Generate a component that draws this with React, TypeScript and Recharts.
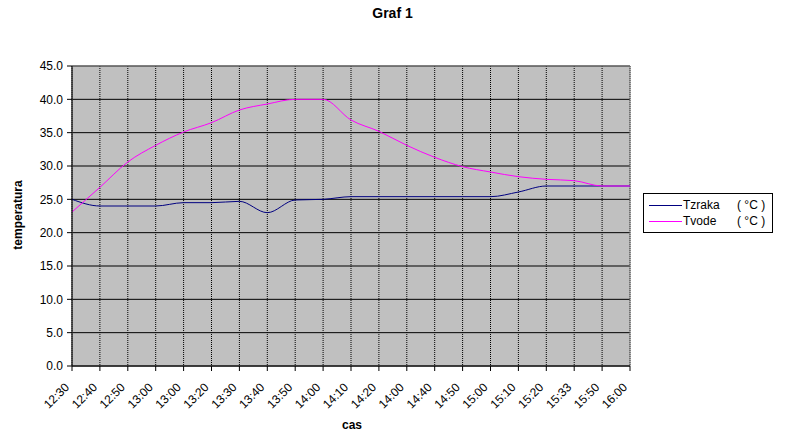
import React from 'react';
import { LineChart, Line, XAxis, YAxis, CartesianGrid, ReferenceArea } from 'recharts';

const categories = ['12:30', '12:40', '12:50', '13:00', '13:00', '13:20', '13:30', '13:40', '13:50', '14:00', '14:10', '14:20', '14:00', '14:40', '14:50', '15:00', '15:10', '15:20', '15:33', '15:50', '16:00'];
const tzraka = [25.0, 24.0, 24.0, 24.0, 24.5, 24.5, 24.7, 23.0, 24.9, 25.0, 25.4, 25.4, 25.4, 25.4, 25.4, 25.4, 26.1, 27.0, 27.0, 27.0, 27.0];
const tvode = [23.1, 26.8, 30.6, 33.1, 35.1, 36.5, 38.4, 39.3, 40.0, 40.0, 36.9, 35.2, 33.1, 31.3, 29.9, 29.1, 28.4, 28.0, 27.8, 27.0, 27.0];
const yTicks = [0, 5, 10, 15, 20, 25, 30, 35, 40, 45];
const seriesNames = ['Tzraka', 'Tvode'];
const seriesColors = ['#000080', '#FF00FF'];

const data = categories.map((c, i) => ({ cas: c, idx: i, tzraka: tzraka[i], tvode: tvode[i] }));

const FONT = 'Arial, "Liberation Sans", sans-serif';

const XTick = (props: any) => {
  const { x, y, payload } = props;
  const ax = x - 2;
  const ay = y + 15;
  return (
    <text x={ax} y={ay} transform={`rotate(-45, ${ax}, ${ay})`} textAnchor="end" fontFamily={FONT} fontSize={12} fill="#000">
      {categories[payload.value]}
    </text>
  );
};

const LegendBox = () => (
  <div style={{ position: 'absolute', left: 643, top: 193, border: '1px solid #000', background: '#fff', width: 130, height: 40, boxSizing: 'border-box', fontFamily: FONT, fontSize: 12, color: '#000', paddingTop: 3 }}>
    {seriesNames.map((n, i) => (
      <div key={n} style={{ position: 'relative', display: 'flex', alignItems: 'center', height: 16 }}>
        <div style={{ marginLeft: 5, width: 33, height: 1, background: seriesColors[i] }} />
        <span style={{ marginLeft: 1, whiteSpace: 'pre' }}>{n}</span>
        <span style={{ position: 'absolute', left: 93, whiteSpace: 'pre' }}>( °C )</span>
      </div>
    ))}
  </div>
);

export default function App() {
  return (
    <div style={{ position: 'absolute', left: 0, top: 0, width: 785, height: 439, background: '#fff' }}>
      <div style={{ position: 'absolute', left: 0, width: 785, top: 5, textAlign: 'center', fontFamily: FONT, fontWeight: 'bold', fontSize: 14 }}>Graf 1</div>
      <div style={{ position: 'absolute', left: 18, top: 215, fontFamily: FONT, fontWeight: 'bold', fontSize: 12, transform: 'translate(-50%, -50%) rotate(-90deg)', whiteSpace: 'nowrap' }}>temperatura</div>
      <div style={{ position: 'absolute', left: 352, top: 418, transform: 'translateX(-50%)', fontFamily: FONT, fontWeight: 'bold', fontSize: 12 }}>cas</div>
      <LineChart width={785} height={439} data={data} margin={{ top: 66, right: 155, left: 0, bottom: 0 }}>
        <CartesianGrid fill="#C0C0C0" stroke="#000" vertical={false} />
        <CartesianGrid stroke="#000" strokeDasharray="1 1" horizontal={false} />
        <XAxis dataKey="idx" type="number" domain={[0, categories.length - 1]} ticks={data.map((d) => d.idx)} interval={0} height={73} tick={<XTick />} tickSize={5} axisLine={{ stroke: '#000' }} tickLine={{ stroke: '#000' }} />
        <YAxis domain={[0, 45]} ticks={yTicks} width={72} tickSize={5} tickMargin={4} tickFormatter={(v: number) => v.toFixed(1)} tick={{ fontFamily: FONT, fontSize: 12, fill: '#000' }} axisLine={{ stroke: '#000' }} tickLine={{ stroke: '#000' }} interval={0} />
        <ReferenceArea x1={0} x2={categories.length - 1} y1={0} y2={45} fill="none" stroke="#808080" />
        <Line type="monotone" dataKey="tzraka" name="Tzraka" stroke={seriesColors[0]} strokeWidth={1} dot={false} isAnimationActive={false} />
        <Line type="monotone" dataKey="tvode" name="Tvode" stroke={seriesColors[1]} strokeWidth={1} dot={false} isAnimationActive={false} />
      </LineChart>
      <LegendBox />
    </div>
  );
}
